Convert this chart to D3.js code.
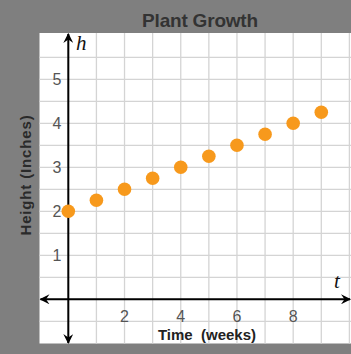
<!DOCTYPE html>
<html>
<head>
<meta charset="utf-8">
<script src="https://cdn.jsdelivr.net/npm/d3@7"></script>
<style>
  body { margin: 0; background: #7f7f7f; }
  svg { display: block; }
</style>
</head>
<body>
<div id="chart"></div>
<script>
// Data
const weeks = [0, 1, 2, 3, 4, 5, 6, 7, 8, 9]
const heights = [2, 2.25, 2.5, 2.75, 3, 3.25, 3.5, 3.75, 4, 4.25]
const xTickLabels = [2, 4, 6, 8]
const yTickLabels = [1, 2, 3, 4, 5]

function draw() {
  const dimensions = {
    width: 351,
    height: 354,
    plotLeft: 39.5,
    plotTop: 33,
    plotRight: 351,
    plotBottom: 343.5,
  }

  const svg = d3.select('#chart')
    .append('svg')
    .attr('width', dimensions.width)
    .attr('height', dimensions.height)

  svg.append('rect')
    .attr('width', dimensions.width)
    .attr('height', dimensions.height)
    .attr('fill', '#7f7f7f')

  // Scales
  const xScale = d3.scaleLinear()
    .domain([-1, 10])
    .range([40.2, 349.4])

  const yScale = d3.scaleLinear()
    .domain([-1, 6])
    .range([343.3, 35.3])

  // Plot area
  svg.append('rect')
    .attr('x', dimensions.plotLeft)
    .attr('y', dimensions.plotTop)
    .attr('width', dimensions.plotRight - dimensions.plotLeft)
    .attr('height', dimensions.plotBottom - dimensions.plotTop)
    .attr('fill', '#fff')

  // Grid
  const grid = svg.append('g')
    .attr('stroke', '#d4d4d4')
    .attr('stroke-width', 1.3)

  grid.selectAll('line.v')
    .data(d3.range(0, 11))
    .join('line')
    .attr('class', 'v')
    .attr('x1', d => xScale(d))
    .attr('x2', d => xScale(d))
    .attr('y1', dimensions.plotTop)
    .attr('y2', dimensions.plotBottom)

  grid.selectAll('line.h')
    .data(d3.range(-0.5, 6, 0.5))
    .join('line')
    .attr('class', 'h')
    .attr('x1', dimensions.plotLeft)
    .attr('x2', dimensions.plotRight)
    .attr('y1', d => yScale(d))
    .attr('y2', d => yScale(d))

  // Arrow marker
  const defs = svg.append('defs')
  defs.append('marker')
    .attr('id', 'arrow')
    .attr('viewBox', '0 0 10 10')
    .attr('refX', 9)
    .attr('refY', 5)
    .attr('markerUnits', 'userSpaceOnUse')
    .attr('markerWidth', 11)
    .attr('markerHeight', 10)
    .attr('orient', 'auto-start-reverse')
    .append('path')
    .attr('d', 'M0,0 L10,5 L0,10 L3.5,5 Z')
    .attr('fill', '#000')

  // Axes
  const axes = svg.append('g')
    .attr('stroke', '#000')
    .attr('stroke-width', 2)

  axes.append('line')
    .attr('x1', 40.5)
    .attr('x2', 350)
    .attr('y1', yScale(0))
    .attr('y2', yScale(0))
    .attr('marker-start', 'url(#arrow)')
    .attr('marker-end', 'url(#arrow)')

  axes.append('line')
    .attr('x1', xScale(0))
    .attr('x2', xScale(0))
    .attr('y1', 343)
    .attr('y2', 34)
    .attr('marker-start', 'url(#arrow)')
    .attr('marker-end', 'url(#arrow)')

  // Tick labels
  svg.append('g')
    .selectAll('text')
    .data(yTickLabels)
    .join('text')
    .attr('x', 61.5)
    .attr('y', d => yScale(d))
    .attr('dy', '0.36em')
    .attr('text-anchor', 'end')
    .attr('font-family', 'Liberation Sans, Arial, sans-serif')
    .attr('font-size', 16)
    .attr('fill', '#555')
    .text(d => d)

  svg.append('g')
    .selectAll('text')
    .data(xTickLabels)
    .join('text')
    .attr('x', d => xScale(d))
    .attr('y', 322)
    .attr('text-anchor', 'middle')
    .attr('font-family', 'Liberation Sans, Arial, sans-serif')
    .attr('font-size', 16)
    .attr('fill', '#555')
    .text(d => d)

  // Axis variable labels
  svg.append('text')
    .attr('x', 76)
    .attr('y', 50)
    .attr('font-family', 'Liberation Serif, Times New Roman, serif')
    .attr('font-style', 'italic')
    .attr('font-size', 21)
    .attr('fill', '#111')
    .text('h')

  svg.append('text')
    .attr('x', 334)
    .attr('y', 288)
    .attr('font-family', 'Liberation Serif, Times New Roman, serif')
    .attr('font-style', 'italic')
    .attr('font-size', 21)
    .attr('fill', '#111')
    .text('t')

  // Points
  svg.append('g')
    .selectAll('circle')
    .data(weeks)
    .join('circle')
    .attr('cx', (d) => xScale(d))
    .attr('cy', (d, i) => yScale(heights[i]))
    .attr('r', 6.8)
    .attr('fill', '#f7991c')

  // Titles
  svg.append('text')
    .attr('x', 200)
    .attr('y', 26.5)
    .attr('text-anchor', 'middle')
    .attr('font-family', 'Liberation Sans, Arial, sans-serif')
    .attr('font-weight', 'bold')
    .attr('font-size', 19)
    .attr('letter-spacing', -0.2)
    .attr('fill', '#333')
    .text('Plant Growth')

  svg.append('text')
    .attr('transform', 'translate(31, 175) rotate(-90)')
    .attr('text-anchor', 'middle')
    .attr('font-family', 'Liberation Sans, Arial, sans-serif')
    .attr('font-weight', 'bold')
    .attr('font-size', 15)
    .attr('letter-spacing', 0.85)
    .attr('fill', '#2a2a2a')
    .text('Height (Inches)')

  svg.append('text')
    .attr('x', 207)
    .attr('y', 340)
    .attr('text-anchor', 'middle')
    .attr('font-family', 'Liberation Sans, Arial, sans-serif')
    .attr('font-weight', 'bold')
    .attr('font-size', 15)
    .attr('fill', '#222')
    .attr('xml:space', 'preserve')
    .text('Time  (weeks)')
}

draw()
</script>
</body>
</html>
